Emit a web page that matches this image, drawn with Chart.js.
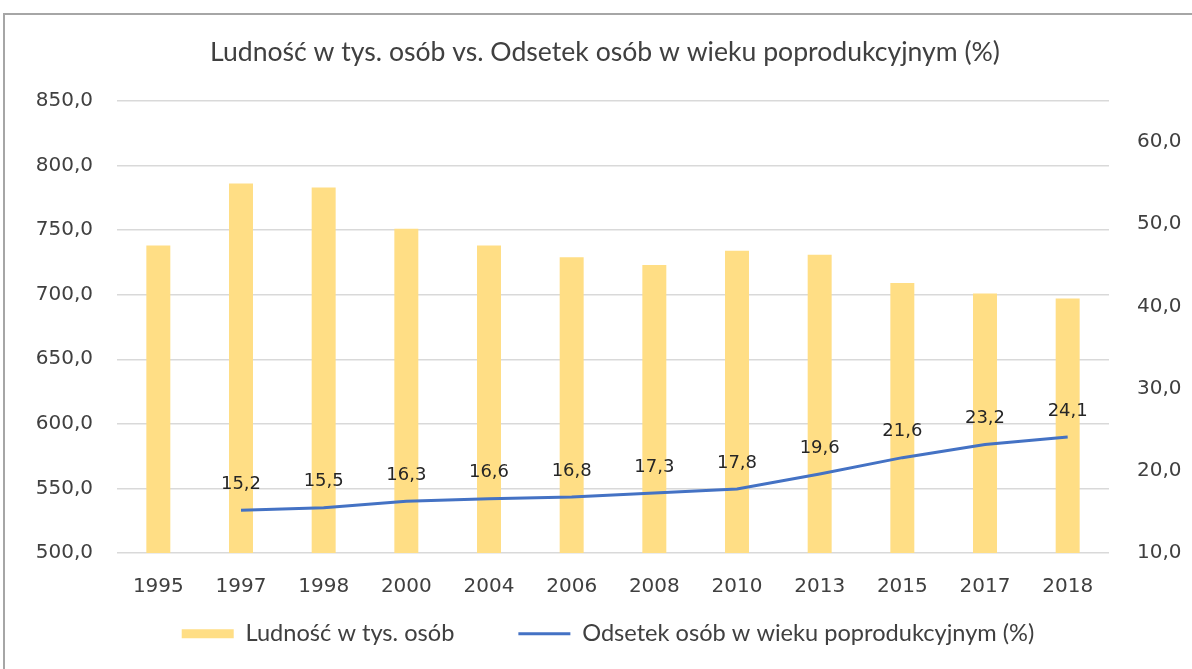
<!DOCTYPE html>
<html>
<head>
<meta charset="utf-8">
<script src="https://cdn.jsdelivr.net/npm/chart.js@4.4.1/dist/chart.umd.min.js"></script>
<style>
  html, body { margin: 0; padding: 0; background: #ffffff; overflow: hidden; }
  #wrap { position: relative; width: 1192px; height: 669px; }
  #frame { position: absolute; left: 3px; top: 13px; width: 1400px; height: 900px; border: 2px solid #A6A6A6; box-sizing: border-box; }
  canvas { position: absolute; left: 0; top: 0; }
</style>
</head>
<body>
<div id="wrap">
  <div id="frame"></div>
  <canvas id="c" width="1192" height="669"></canvas>
</div>
<script>
const titleText = 'Ludność w tys. osób vs. Odsetek osób w wieku poprodukcyjnym (%)';
const categories = ['1995', '1997', '1998', '2000', '2004', '2006', '2008', '2010', '2013', '2015', '2017', '2018'];
const populationLabel = 'Ludność w tys. osób';
const populationValues = [738, 786, 783, 751, 738, 729, 723, 734, 731, 709, 701, 697];
const shareLabel = 'Odsetek osób w wieku poprodukcyjnym (%)';
const shareValues = [null, 15.2, 15.5, 16.3, 16.6, 16.8, 17.3, 17.8, 19.6, 21.6, 23.2, 24.1];
const leftTicks = [500, 550, 600, 650, 700, 750, 800, 850];
const rightTicks = [10, 20, 30, 40, 50, 60];

const fmt = v => Number(v).toFixed(1).replace('.', ',');

const pointLabels = {
  id: 'pointLabels',
  afterLayout(chart) {
    // place the built-in legend lower, below the category labels
    const lg = chart.legend;
    if (lg) {
      lg.left = 24;
      lg.top = 558;
      lg.bottom = 669;
      lg.height = lg.bottom - lg.top;
    }
  },
  afterDatasetsDraw(chart) {
    const ctx = chart.ctx;
    const meta = chart.getDatasetMeta(1);
    ctx.save();
    ctx.font = '18px "DejaVu Sans"';
    ctx.fillStyle = '#262626';
    ctx.textAlign = 'center';
    ctx.textBaseline = 'middle';
    meta.data.forEach((pt, i) => {
      const v = shareValues[i];
      if (v === null || v === undefined) return;
      ctx.fillText(fmt(v), pt.x, pt.y - 26);
    });
    ctx.restore();
  }
};

new Chart(document.getElementById('c'), {
  data: {
    labels: categories,
    datasets: [
      {
        type: 'bar',
        label: populationLabel,
        data: populationValues,
        backgroundColor: '#FFDE85',
        borderWidth: 0,
        categoryPercentage: 1.0,
        barPercentage: 0.29,
        yAxisID: 'y',
        order: 1,
        pointStyle: 'rect'
      },
      {
        type: 'line',
        label: shareLabel,
        data: shareValues,
        borderColor: '#4472C4',
        backgroundColor: '#4472C4',
        borderWidth: 3,
        pointRadius: 0,
        tension: 0,
        fill: false,
        yAxisID: 'y1',
        order: 0,
        pointStyle: 'line'
      }
    ]
  },
  options: {
    responsive: false,
    animation: false,
    devicePixelRatio: 1,
    layout: { padding: { left: 18, right: 0, top: 0, bottom: 16 } },
    plugins: {
      title: {
        display: true,
        text: titleText,
        color: '#404040',
        font: { family: 'Lato', size: 26.6, weight: 'normal', lineHeight: 1.2 },
        padding: { top: 36, bottom: 33 }
      },
      legend: {
        display: true,
        position: 'bottom',
        maxHeight: 40,
        labels: {
          usePointStyle: true,
          pointStyleWidth: 52,
          boxHeight: 9,
          padding: 64,
          color: '#404040',
          font: { family: 'Lato', size: 23.6 },
          sort: (a, b) => a.datasetIndex - b.datasetIndex
        }
      },
      tooltip: { enabled: false }
    },
    scales: {
      x: {
        grid: { display: false, drawTicks: false },
        border: { display: false },
        ticks: { color: '#404040', font: { family: 'DejaVu Sans', size: 20 }, padding: 22, maxRotation: 0, autoSkip: false },
        afterFit(scale) { scale.height = 60; }
      },
      y: {
        position: 'left',
        min: 500,
        max: 850,
        afterBuildTicks(scale) { scale.ticks = leftTicks.map(v => ({ value: v })); },
        grid: { color: '#D9D9D9', lineWidth: 1.5, drawTicks: false },
        border: { display: false },
        ticks: { color: '#404040', font: { family: 'DejaVu Sans', size: 20 }, padding: 24, callback: v => fmt(v) },
        afterFit(scale) { scale.width = 99; }
      },
      y1: {
        position: 'right',
        min: 10,
        max: 65,
        afterBuildTicks(scale) { scale.ticks = rightTicks.map(v => ({ value: v })); },
        grid: { display: false, drawTicks: false },
        border: { display: false },
        ticks: { color: '#404040', font: { family: 'DejaVu Sans', size: 20 }, padding: 28, callback: v => fmt(v) },
        afterFit(scale) { scale.width = 83; }
      }
    }
  },
  plugins: [pointLabels]
});
</script>
</body>
</html>
